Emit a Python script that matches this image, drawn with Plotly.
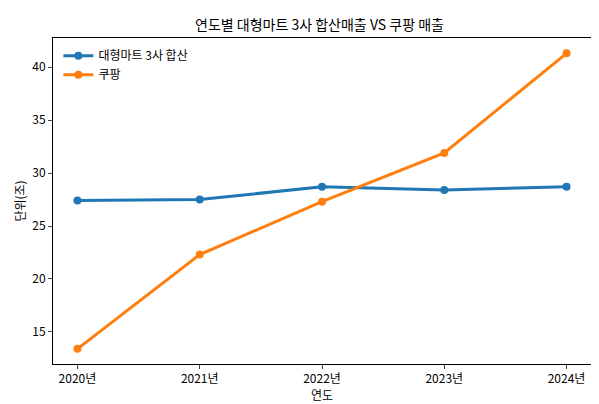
import plotly.graph_objects as go

years = ["2020년", "2021년", "2022년", "2023년", "2024년"]
mart = [27.4, 27.5, 28.7, 28.4, 28.7]
coupang = [13.4, 22.3, 27.3, 31.9, 41.3]

font = "Noto Sans CJK KR"
fig = go.Figure()
fig.add_trace(go.Scatter(x=years, y=mart, mode="lines+markers", name="대형마트 3사 합산",
                         line=dict(color="#1f77b4", width=3), marker=dict(size=8)))
fig.add_trace(go.Scatter(x=years, y=coupang, mode="lines+markers", name="쿠팡",
                         line=dict(color="#ff7f0e", width=3), marker=dict(size=8)))

axis = dict(showline=True, linecolor="black", mirror=True, ticks="outside", ticklen=4,
            showgrid=False, zeroline=False, tickfont=dict(size=12, color="black"))
fig.update_layout(
    width=599, height=404, margin=dict(l=42, r=16, t=30, b=48),
    paper_bgcolor="white", plot_bgcolor="white",
    font=dict(family=font, color="black"),
    title=dict(text="연도별 대형마트 3사 합산매출 VS 쿠팡 매출", x=0.52, y=0.97,
               xanchor="center", font=dict(size=14)),
    legend=dict(x=0.01, y=0.99, xanchor="left", yanchor="top", bgcolor="rgba(0,0,0,0)",
                font=dict(size=12)),
    xaxis=dict(axis, range=[-0.2, 4.2], title=dict(text="연도", font=dict(size=12), standoff=2)),
    yaxis=dict(axis, range=[11.97, 42.75], tickvals=[15, 20, 25, 30, 35, 40],
               title=dict(text="단위(조)", font=dict(size=12), standoff=4)),
)
fig.write_html("out.html")
